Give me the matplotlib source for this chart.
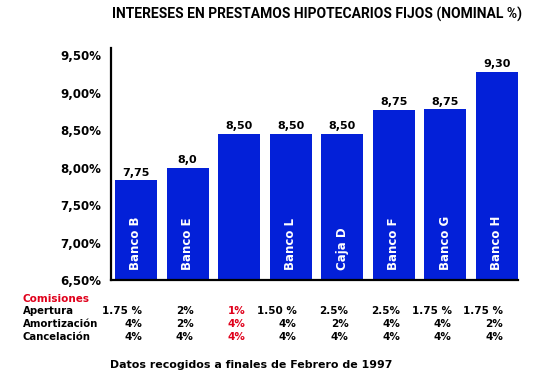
import matplotlib
matplotlib.use('Agg')
from matplotlib import pyplot as plt
from matplotlib import transforms
import numpy as np

# data
bancos = ['Banco B', 'Banco E', '', 'Banco L', 'Caja D', 'Banco F', 'Banco G', 'Banco H']
alturas = [7.83, 8.0, 8.45, 8.45, 8.45, 8.77, 8.78, 9.28]
etiquetas = ['7,75', '8,0', '8,50', '8,50', '8,50', '8,75', '8,75', '9,30']
yticks = [6.5, 7.0, 7.5, 8.0, 8.5, 9.0, 9.5]
ytick_labels = ['6,50%', '7,00%', '7,50%', '8,00%', '8,50%', '9,00%', '9,50%']

filas = ['Apertura', 'Amortización', 'Cancelación']
apertura = ['1.75 %', '2%', '1%', '1.50 %', '2.5%', '2.5%', '1.75 %', '1.75 %']
amortizacion = ['4%', '2%', '4%', '4%', '2%', '4%', '4%', '2%']
cancelacion = ['4%', '4%', '4%', '4%', '4%', '4%', '4%', '4%']
destacado = 2  # column printed in red

azul = '#0320d8'
rojo = '#e0001b'
fuente = 'DejaVu Sans'

fig = plt.figure(figsize=(5.43, 3.84), dpi=100)
ax = fig.add_axes([0.2044, 0.271, 0.7496, 0.604])

x = np.arange(len(bancos))
ax.bar(x, np.array(alturas) - 6.5, bottom=6.5, width=0.816, color=azul)
ax.set_xlim(-0.485, 7.41)
ax.set_ylim(6.5, 9.6)

for xi, h, lab, name in zip(x, alturas, etiquetas, bancos):
    ax.annotate(lab, (xi, h), xytext=(0, 2), textcoords='offset points',
                ha='center', va='bottom', fontsize=8, fontweight='bold',
                family=fuente)
    ax.annotate(name, (xi, 6.5), xytext=(0, 7), textcoords='offset points',
                ha='center', va='bottom', rotation=90, color='white',
                fontsize=8.5, fontweight='bold', family=fuente)

ax.set_yticks(yticks)
ax.set_yticklabels(ytick_labels, fontsize=8.5, fontweight='bold', family=fuente)
ax.tick_params(axis='y', length=0, pad=7)
ax.set_xticks([])
for s in ['top', 'right']:
    ax.spines[s].set_visible(False)
ax.spines['left'].set_linewidth(1.6)
ax.spines['bottom'].set_linewidth(1.6)

fig.text(0.584, 0.961, 'INTERESES EN PRESTAMOS HIPOTECARIOS FIJOS (NOMINAL %)',
         ha='center', va='center', fontsize=10, fontweight='bold',
         family=['Roboto', 'DejaVu Sans'])

# commission table under the bars
trans = transforms.blended_transform_factory(ax.transData, fig.transFigure)
fig.text(0.042, 0.221, 'Comisiones', color=rojo, fontsize=7.5,
         fontweight='bold', family=fuente, va='center')
ys = [0.190, 0.156, 0.122]
for fila, vals, y in zip(filas, [apertura, amortizacion, cancelacion], ys):
    fig.text(0.042, y, fila, fontsize=7.3, fontweight='bold',
             family=fuente, va='center')
    for i, v in enumerate(vals):
        c = rojo if i == destacado else 'black'
        ax.text(x[i] + 0.12, y, v, transform=trans, ha='right', va='center',
                fontsize=7.5, fontweight='bold', family=fuente, color=c)

fig.text(0.203, 0.049, 'Datos recogidos a finales de Febrero de 1997',
         ha='left', va='center', fontsize=7.9, fontweight='bold', family=fuente)

fig.savefig('out.png', dpi=100)
